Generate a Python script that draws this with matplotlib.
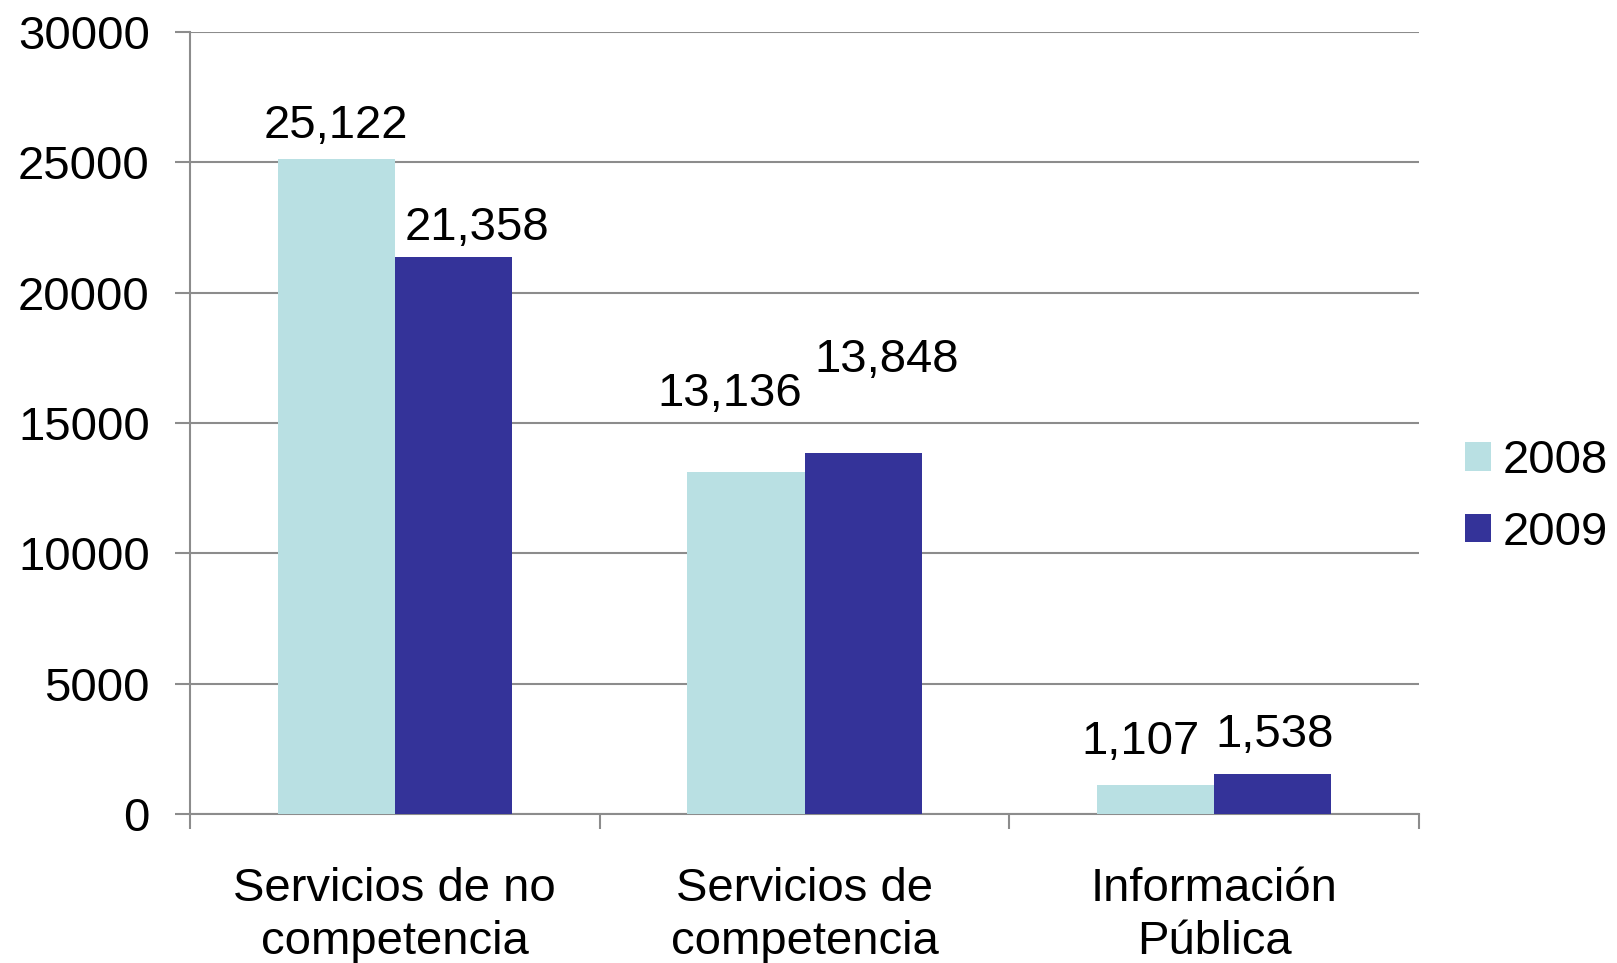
import matplotlib
matplotlib.use("Agg")
import matplotlib.pyplot as plt
import numpy as np

categories = ["Servicios de no\ncompetencia", "Servicios de\ncompetencia", "Información\nPública"]
years = ["2008", "2009"]
values_2008 = [25122, 13136, 1107]
values_2009 = [21358, 13848, 1538]
yticks = [0, 5000, 10000, 15000, 20000, 25000, 30000]

COLORS = ["#B9E0E3", "#343399"]
GRID = "#8C8C8C"
FS = 34

plt.rcParams["font.family"] = ["Liberation Sans", "DejaVu Sans"]

fig = plt.figure(figsize=(16.17, 9.63), dpi=100)
ax = fig.add_axes([0.1175, 0.1547, 0.7601, 0.8121])

x = np.arange(len(categories))
width = 0.286
bars_a = ax.bar(x - width / 2, values_2008, width, color=COLORS[0], label=years[0], zorder=3)
bars_b = ax.bar(x + width / 2, values_2009, width, color=COLORS[1], label=years[1], zorder=3)

# label offsets (points) to mimic the original placement
offs_a = [(0, 24), (-12, 56), (-11, 31)]
offs_b = [(17, 21), (17, 67), (1, 28)]
for bars, vals, offs in ((bars_a, values_2008, offs_a), (bars_b, values_2009, offs_b)):
    for b, v, (dx, dy) in zip(bars, vals, offs):
        ax.annotate(f"{v:,}", (b.get_x() + b.get_width() / 2, v),
                    xytext=(dx, dy), textcoords="offset points",
                    ha="center", va="center", fontsize=FS)

ax.set_xlim(-0.5, len(categories) - 0.5)
ax.set_ylim(0, 30000)
ax.set_yticks(yticks)
ax.set_yticklabels([str(t) for t in yticks])
ax.yaxis.grid(True, color=GRID, linewidth=1.5, zorder=0)
ax.set_axisbelow(True)

ax.set_xticks(x)
ax.set_xticklabels(categories, fontsize=FS, linespacing=1.28)
ax.set_xticks(np.arange(len(categories) + 1) - 0.5, minor=True)
ax.tick_params(axis="x", which="major", length=0, pad=38)
ax.tick_params(axis="x", which="minor", length=11, width=1.5, color=GRID)
ax.tick_params(axis="y", length=11, width=1.5, color=GRID, labelsize=FS, pad=18)

for sp in ("top", "right"):
    ax.spines[sp].set_visible(False)
for sp in ("left", "bottom"):
    ax.spines[sp].set_color(GRID)
    ax.spines[sp].set_linewidth(1.5)

fig.legend(loc="center left", bbox_to_anchor=(0.906, 0.484), frameon=False,
           fontsize=FS, handlelength=0.55, handleheight=0.55, handletextpad=0.25,
           labelspacing=0.58, borderpad=0, borderaxespad=0)

fig.savefig("out.png", dpi=100, facecolor="white")
